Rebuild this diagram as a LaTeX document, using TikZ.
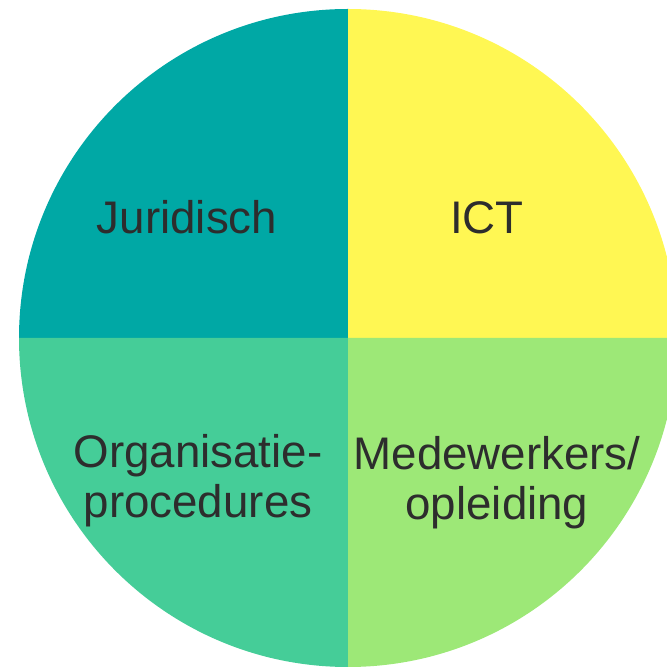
\documentclass[tikz,border=0pt]{standalone}
\usepackage{fontspec}
\setmainfont{Liberation Sans}
\usepackage{xcolor}
\definecolor{juridischkleur}{RGB}{0,168,165}
\definecolor{geel}{RGB}{255,247,83}
\definecolor{mintgroen}{RGB}{69,205,152}
\definecolor{lichtgroen}{RGB}{157,232,119}
\definecolor{tekst}{RGB}{45,45,45}

\begin{document}
\begin{tikzpicture}[x=0.03cm, y=0.03cm,
    label/.style={text=tekst, inner sep=0pt, align=center,
        font=\fontsize{39}{43.5}\selectfont}]
    \useasboundingbox (0,0) rectangle (667,667);
    \clip (0,0) rectangle (667,667);
    \coordinate (m) at (348,329);
    % kwadranten
    \fill[juridischkleur] (m) -- ++(-329,0) arc[start angle=180, end angle=90, radius=329] -- cycle;
    \fill[geel] (m) -- ++(0,329) arc[start angle=90, end angle=0, radius=329] -- cycle;
    \fill[mintgroen] (m) -- ++(-329,0) arc[start angle=180, end angle=270, radius=329] -- cycle;
    \fill[lichtgroen] (m) -- ++(0,-329) arc[start angle=270, end angle=360, radius=329] -- cycle;
    % teksten
    \node[label, anchor=base] (juridisch) at (187,433) {Juridisch};
    \node[label, anchor=base] (ict) at (487,433) {ICT};
    \node[label, anchor=base] (organisatie) at (198,149) {Organisatie-\\procedures};
    \node[label, anchor=base] (medewerkers) at (497,147) {Medewerkers/\\opleiding};
\end{tikzpicture}
\end{document}
